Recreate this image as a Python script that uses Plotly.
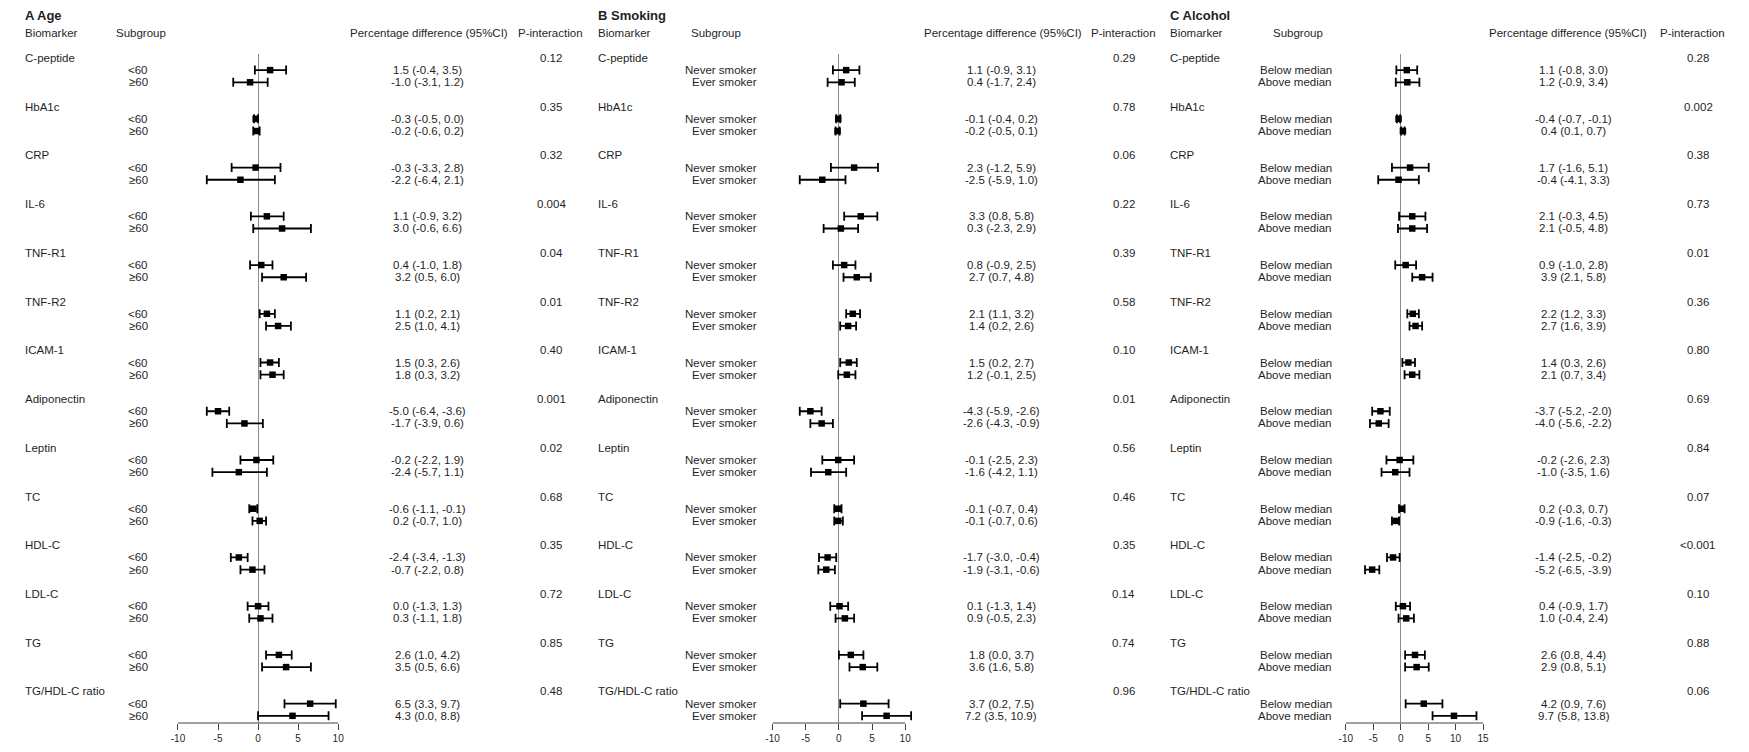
import plotly.graph_objects as go

# ---------------- data ----------------
biomarkers = ["C-peptide", "HbA1c", "CRP", "IL-6", "TNF-R1", "TNF-R2", "ICAM-1",
              "Adiponectin", "Leptin", "TC", "HDL-C", "LDL-C", "TG", "TG/HDL-C ratio"]

# Panel A: Age
age_title = "A Age"
age_groups = ["<60", "≥60"]
age_est1 = [1.5, -0.3, -0.3, 1.1, 0.4, 1.1, 1.5, -5.0, -0.2, -0.6, -2.4, 0.0, 2.6, 6.5]
age_lo1 = [-0.4, -0.5, -3.3, -0.9, -1.0, 0.2, 0.3, -6.4, -2.2, -1.1, -3.4, -1.3, 1.0, 3.3]
age_hi1 = [3.5, 0.0, 2.8, 3.2, 1.8, 2.1, 2.6, -3.6, 1.9, -0.1, -1.3, 1.3, 4.2, 9.7]
age_est2 = [-1.0, -0.2, -2.2, 3.0, 3.2, 2.5, 1.8, -1.7, -2.4, 0.2, -0.7, 0.3, 3.5, 4.3]
age_lo2 = [-3.1, -0.6, -6.4, -0.6, 0.5, 1.0, 0.3, -3.9, -5.7, -0.7, -2.2, -1.1, 0.5, 0.0]
age_hi2 = [1.2, 0.2, 2.1, 6.6, 6.0, 4.1, 3.2, 0.6, 1.1, 1.0, 0.8, 1.8, 6.6, 8.8]
age_p = ["0.12", "0.35", "0.32", "0.004", "0.04", "0.01", "0.40", "0.001", "0.02",
         "0.68", "0.35", "0.72", "0.85", "0.48"]
age_ticks = [-10, -5, 0, 5, 10]

# Panel B: Smoking
smk_title = "B Smoking"
smk_groups = ["Never smoker", "Ever smoker"]
smk_est1 = [1.1, -0.1, 2.3, 3.3, 0.8, 2.1, 1.5, -4.3, -0.1, -0.1, -1.7, 0.1, 1.8, 3.7]
smk_lo1 = [-0.9, -0.4, -1.2, 0.8, -0.9, 1.1, 0.2, -5.9, -2.5, -0.7, -3.0, -1.3, 0.0, 0.2]
smk_hi1 = [3.1, 0.2, 5.9, 5.8, 2.5, 3.2, 2.7, -2.6, 2.3, 0.4, -0.4, 1.4, 3.7, 7.5]
smk_est2 = [0.4, -0.2, -2.5, 0.3, 2.7, 1.4, 1.2, -2.6, -1.6, -0.1, -1.9, 0.9, 3.6, 7.2]
smk_lo2 = [-1.7, -0.5, -5.9, -2.3, 0.7, 0.2, -0.1, -4.3, -4.2, -0.7, -3.1, -0.5, 1.6, 3.5]
smk_hi2 = [2.4, 0.1, 1.0, 2.9, 4.8, 2.6, 2.5, -0.9, 1.1, 0.6, -0.6, 2.3, 5.8, 10.9]
smk_p = ["0.29", "0.78", "0.06", "0.22", "0.39", "0.58", "0.10", "0.01", "0.56",
         "0.46", "0.35", "0.14", "0.74", "0.96"]
smk_ticks = [-10, -5, 0, 5, 10]

# Panel C: Alcohol
alc_title = "C Alcohol"
alc_groups = ["Below median", "Above median"]
alc_est1 = [1.1, -0.4, 1.7, 2.1, 0.9, 2.2, 1.4, -3.7, -0.2, 0.2, -1.4, 0.4, 2.6, 4.2]
alc_lo1 = [-0.8, -0.7, -1.6, -0.3, -1.0, 1.2, 0.3, -5.2, -2.6, -0.3, -2.5, -0.9, 0.8, 0.9]
alc_hi1 = [3.0, -0.1, 5.1, 4.5, 2.8, 3.3, 2.6, -2.0, 2.3, 0.7, -0.2, 1.7, 4.4, 7.6]
alc_est2 = [1.2, 0.4, -0.4, 2.1, 3.9, 2.7, 2.1, -4.0, -1.0, -0.9, -5.2, 1.0, 2.9, 9.7]
alc_lo2 = [-0.9, 0.1, -4.1, -0.5, 2.1, 1.6, 0.7, -5.6, -3.5, -1.6, -6.5, -0.4, 0.8, 5.8]
alc_hi2 = [3.4, 0.7, 3.3, 4.8, 5.8, 3.9, 3.4, -2.2, 1.6, -0.3, -3.9, 2.4, 5.1, 13.8]
alc_p = ["0.28", "0.002", "0.38", "0.73", "0.01", "0.36", "0.80", "0.69", "0.84",
         "0.07", "<0.001", "0.10", "0.88", "0.06"]
alc_ticks = [-10, -5, 0, 5, 10, 15]

# ---------------- layout config (page pixel positions) ----------------
PAGE_W, PAGE_H = 1749, 752
BODY = 8                               # default HTML body margin
W, H = PAGE_W - 2 * BODY, PAGE_H - 2 * BODY
ROW_PX = 12.2
ROW0_PX = 58.0
TOP_PX = 54.0
AXIS_PX = 724.0
FONT = "Liberation Sans, Arial, sans-serif"
TXT = "#1f1f1f"
FS = 11.5

panels = [
    dict(title=age_title, groups=age_groups, e1=age_est1, l1=age_lo1, h1=age_hi1,
         e2=age_est2, l2=age_lo2, h2=age_hi2, p=age_p, ticks=age_ticks,
         x_0=252.9, unit=8.07, xmax=10.0,
         bio_x=17, sub_hdr_x=109, sub_x=143.5, ci_hdr_x=425, ci_x=424,
         p_hdr_x=548, p_x=548.5),
    dict(title=smk_title, groups=smk_groups, e1=smk_est1, l1=smk_lo1, h1=smk_hi1,
         e2=smk_est2, l2=smk_lo2, h2=smk_hi2, p=smk_p, ticks=smk_ticks,
         x_0=838.1, unit=6.68, xmax=11.5,
         bio_x=594.5, sub_hdr_x=688, sub_x=757, ci_hdr_x=1003, ci_x=1001.5,
         p_hdr_x=1125.3, p_x=1125.3),
    dict(title=alc_title, groups=alc_groups, e1=alc_est1, l1=alc_lo1, h1=alc_hi1,
         e2=alc_est2, l2=alc_lo2, h2=alc_hi2, p=alc_p, ticks=alc_ticks,
         x_0=1404.2, unit=5.53, xmax=15.0,
         bio_x=1171, sub_hdr_x=1274, sub_x=1336, ci_hdr_x=1572.5, ci_x=1578.5,
         p_hdr_x=1698.5, p_x=1704),
]


def fx(px):   # page px -> paper x
    return (px - BODY) / W


def fy(py):   # page px -> paper y
    return 1 - (py - BODY) / H


fig = go.Figure()
annotations = []
shapes = []


def add_text(text, px, anchor, v=None, py=None, size=FS, bold=False):
    a = dict(text=f"<b>{text}</b>" if bold else text,
             x=fx(px), xref="paper", xanchor=anchor, yanchor="middle",
             showarrow=False, borderpad=0,
             font=dict(family=FONT, size=size, color=TXT))
    if v is not None:
        a.update(y=v, yref="y")
    else:
        a.update(y=fy(py), yref="paper")
    annotations.append(a)


for k, pn in enumerate(panels):
    axname = "x" if k == 0 else f"x{k + 1}"
    layname = "xaxis" if k == 0 else f"xaxis{k + 1}"

    xs, ys, ep, em = [], [], [], []
    for i in range(len(biomarkers)):
        for j, (e, lo, hi) in enumerate([(pn["e1"][i], pn["l1"][i], pn["h1"][i]),
                                         (pn["e2"][i], pn["l2"][i], pn["h2"][i])]):
            xs.append(e)
            ys.append(4 * i + 1 + j)
            ep.append(hi - e)
            em.append(e - lo)
    fig.add_trace(go.Scatter(
        x=xs, y=ys, xaxis=axname, yaxis="y", mode="markers",
        marker=dict(symbol="square", size=6.5, color="black", line=dict(width=0)),
        error_x=dict(type="data", symmetric=False, array=ep, arrayminus=em,
                     color="black", thickness=1.8, width=4.5),
        showlegend=False, hoverinfo="skip", cliponaxis=False))

    x_lo = pn["x_0"] + min(pn["ticks"]) * pn["unit"]
    x_hi = pn["x_0"] + pn["xmax"] * pn["unit"]
    fig.layout[layname] = dict(
        domain=[fx(x_lo), fx(x_hi)], range=[min(pn["ticks"]), pn["xmax"]], anchor="y",
        tickvals=pn["ticks"], ticktext=[str(t) for t in pn["ticks"]],
        ticks="outside", ticklen=6, tickwidth=1, tickcolor="#444",
        tickfont=dict(family=FONT, size=10, color=TXT),
        showgrid=False, showline=False,
        zeroline=True, zerolinecolor="#8c8c8c", zerolinewidth=1)
    shapes.append(dict(type="line", xref=axname, yref="y domain",
                       x0=min(pn["ticks"]), x1=max(pn["ticks"]), y0=0, y1=0,
                       line=dict(color="#444", width=1)))

    # headers
    add_text(pn["title"], pn["bio_x"], "left", py=15.5, size=13, bold=True)
    add_text("Biomarker", pn["bio_x"], "left", py=33.3)
    add_text("Subgroup", pn["sub_hdr_x"], "left", py=33.3)
    add_text("Percentage difference (95%CI)", pn["ci_hdr_x"], "center", py=33.3)
    add_text("P-interaction", pn["p_hdr_x"], "center", py=33.3)

    for i, name in enumerate(biomarkers):
        add_text(name, pn["bio_x"], "left", v=4 * i)
        add_text(pn["p"][i], pn["p_x"], "center", v=4 * i)
        for j in range(2):
            e = pn["e1"][i] if j == 0 else pn["e2"][i]
            lo = pn["l1"][i] if j == 0 else pn["l2"][i]
            hi = pn["h1"][i] if j == 0 else pn["h2"][i]
            add_text(pn["groups"][j], pn["sub_x"], "right", v=4 * i + 1 + j)
            add_text(f"{e:.1f} ({lo:.1f}, {hi:.1f})", pn["ci_x"], "center", v=4 * i + 1 + j)

v_top = (TOP_PX - ROW0_PX) / ROW_PX
v_bot = (AXIS_PX - ROW0_PX) / ROW_PX
fig.update_layout(
    width=W, height=H,
    margin=dict(l=0, r=0, t=0, b=0),
    paper_bgcolor="white", plot_bgcolor="white",
    yaxis=dict(domain=[fy(AXIS_PX), fy(TOP_PX)], range=[v_bot, v_top],
               visible=False, showgrid=False, zeroline=False),
    annotations=annotations, shapes=shapes,
    font=dict(family=FONT, color=TXT),
)

fig.write_html("out.html")
